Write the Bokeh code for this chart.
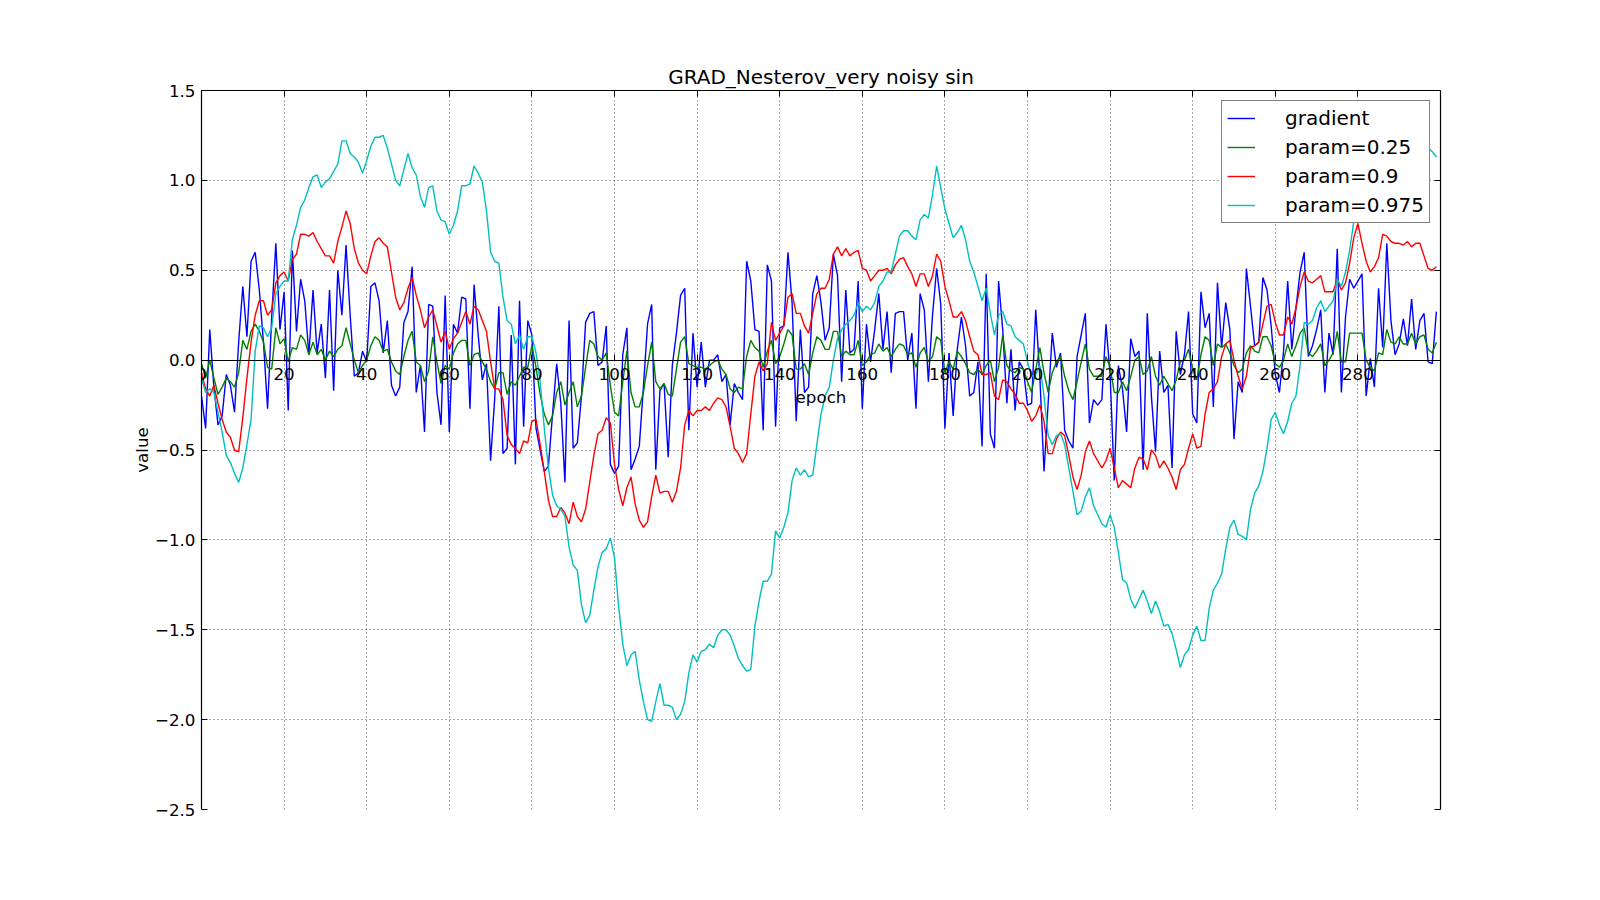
from bokeh.plotting import figure
from bokeh.models import Range1d, LinearAxis, FixedTicker, Legend, LegendItem, CustomJSTickFormatter
from bokeh.embed import file_html
from bokeh.resources import INLINE

epochs = list(range(300))

gradient = [
    -0.2, -0.38, 0.17, -0.15, -0.36, -0.31, -0.08, -0.14, -0.29, 0.1,
    0.41, 0.13, 0.55, 0.6, 0.39, 0.1, -0.27, 0.24, 0.65, 0.17,
    0.38, -0.28, 0.61, 0.16, 0.45, 0.33, 0.03, 0.39, 0.04, 0.2,
    -0.1, 0.39, -0.17, 0.5, 0.25, 0.64, 0.25, -0.09, -0.07, 0.05,
    -0.01, 0.41, 0.43, 0.33, 0.04, 0.22, -0.14, -0.2, -0.15, 0.21,
    0.27, 0.52, -0.18, -0.03, -0.4, 0.31, 0.3, -0.18, -0.36, 0.36,
    -0.4, 0.2, 0.15, 0.35, 0.34, -0.27, 0.42, 0.14, -0.11, -0.02,
    -0.56, -0.21, 0.3, -0.52, -0.49, 0.14, -0.58, 0.33, -0.37, 0.22,
    0.14, -0.38, -0.5, -0.62, -0.59, -0.3, -0.02, -0.24, -0.68, 0.22,
    -0.49, -0.46, -0.2, 0.21, 0.26, 0.27, -0.03, -0.01, 0.19, -0.58,
    -0.63, -0.59, 0.03, 0.18, -0.61, -0.55, -0.48, -0.15, 0.2, 0.31,
    -0.61, -0.17, -0.13, -0.54, -0.03, 0.15, 0.36, 0.4, -0.39, 0.15,
    -0.15, 0.1, -0.15, 0.0, 0.0, 0.03, -0.12, -0.08, -0.36, -0.13,
    -0.18, -0.22, 0.55, 0.44, 0.17, 0.16, -0.39, 0.53, 0.44, -0.37,
    0.18, 0.19, 0.6, 0.32, -0.34, 0.17, -0.18, -0.15, 0.37, 0.47,
    0.32, 0.11, 0.18, 0.59, 0.47, -0.12, 0.39, 0.04, 0.06, 0.44,
    -0.27, 0.2, -0.01, 0.17, 0.37, 0.06, 0.27, -0.07, 0.26, 0.27,
    0.27, 0.0, 0.15, -0.27, 0.37, 0.28, -0.12, 0.25, 0.51, 0.31,
    -0.38, 0.04, -0.31, 0.06, 0.24, 0.08, -0.2, -0.18, -0.01, -0.48,
    0.48, -0.41, -0.49, 0.44, 0.17, -0.24, 0.06, -0.28, -0.01, -0.05,
    -0.25, -0.24, 0.28, -0.1, -0.62, -0.24, 0.15, -0.04, 0.04, -0.39,
    -0.45, -0.49, 0.02, 0.14, 0.26, -0.35, -0.22, -0.25, -0.22, 0.2,
    -0.08, -0.67, -0.03, -0.16, -0.4, 0.12, 0.02, 0.05, -0.61, 0.26,
    -0.2, -0.51, 0.05, -0.18, -0.14, -0.6, 0.16, -0.08, 0.03, 0.27,
    -0.3, -0.35, 0.38, 0.18, 0.26, -0.26, 0.43, 0.07, 0.32, 0.17,
    -0.44, -0.12, -0.18, 0.51, 0.3, 0.08, 0.1, 0.46, 0.39, 0.19,
    -0.08, -0.18, 0.05, 0.44, 0.06, 0.29, 0.49, 0.6, 0.02, 0.08,
    0.17, 0.28, -0.18, 0.15, 0.03, 0.62, -0.18, 0.24, 0.45, 0.4,
    0.44, 0.48, -0.2, 0.01, -0.15, 0.4, 0.07, 0.65, 0.22, 0.03,
    0.09, 0.23, 0.08, 0.34, 0.06, 0.22, 0.26, -0.01, -0.02, 0.27,
]

param_025 = [
    -0.02, -0.1, 0.0, -0.1, -0.19, -0.15, -0.1, -0.12, -0.15, -0.07,
    0.11, 0.06, 0.16, 0.2, 0.16, 0.1, -0.04, -0.05, 0.18, 0.09,
    0.12, -0.01, 0.07, 0.06, 0.14, 0.11, 0.03, 0.1, 0.03, 0.06,
    0.0, 0.05, 0.02, 0.06, 0.08, 0.18, 0.09, 0.0, -0.07, -0.03,
    0.0, 0.08, 0.13, 0.11, 0.05, 0.06, -0.01, -0.06, -0.08, 0.02,
    0.11, 0.16, -0.01, -0.03, -0.12, -0.06, 0.13, -0.01, -0.13, -0.03,
    -0.05, 0.04, 0.09, 0.11, 0.11, -0.03, 0.03, 0.04, -0.01, -0.05,
    -0.12, -0.16, -0.07, -0.07, -0.19, -0.12, -0.14, -0.09, -0.04, -0.04,
    0.08, -0.04, -0.19, -0.3, -0.36, -0.31, -0.18, -0.12, -0.25, -0.18,
    -0.12, -0.26, -0.2, -0.04, 0.11, 0.09, 0.02, 0.0, 0.04, -0.14,
    -0.29, -0.31, -0.12, 0.05, -0.18, -0.26, -0.26, -0.18, -0.03, 0.1,
    -0.12, -0.16, -0.13, -0.19, -0.2, -0.05, 0.1, 0.13, -0.02, -0.03,
    -0.04, -0.04, -0.05, -0.03, -0.01, 0.0, -0.05, -0.08, -0.16, -0.18,
    -0.15, -0.16, 0.02, 0.11, 0.07, 0.05, -0.04, 0.05, 0.11, -0.02,
    0.02, 0.09, 0.17, 0.14, -0.05, -0.05, -0.02, -0.08, 0.04, 0.13,
    0.11, 0.06, 0.06, 0.16, 0.16, 0.02, 0.05, 0.03, 0.03, 0.11,
    -0.03, -0.01, 0.03, 0.04, 0.09, 0.05, 0.07, 0.02, 0.06, 0.09,
    0.08, 0.03, 0.04, -0.04, 0.04, 0.07, -0.01, 0.02, 0.13, 0.11,
    -0.07, -0.01, -0.05, 0.05, 0.02, -0.02, -0.07, -0.08, -0.05, -0.08,
    -0.03, 0.0, -0.12, -0.04, 0.14, -0.03, -0.06, -0.07, -0.04, -0.05,
    -0.12, -0.18, -0.05, 0.07, -0.07, -0.18, -0.07, -0.01, 0.02, -0.09,
    -0.17, -0.22, -0.12, -0.01, 0.09, -0.05, -0.09, -0.09, -0.09, 0.02,
    -0.04, -0.18, -0.18, -0.12, -0.17, -0.09, 0.0, 0.02, -0.08, -0.06,
    0.02, -0.09, -0.14, -0.09, -0.13, -0.17, -0.11, -0.01, 0.0, 0.06,
    -0.05, -0.11, 0.03, 0.13, 0.11, -0.03, 0.09, 0.07, 0.09, 0.04,
    -0.03, -0.07, -0.05, 0.04, 0.08, 0.05, 0.04, 0.13, 0.13, 0.08,
    -0.02, -0.04, 0.0, 0.09, 0.02, 0.08, 0.15, 0.18, 0.04, 0.02,
    0.05, 0.09, -0.03, 0.0, 0.04, 0.16, -0.01, -0.01, 0.15, 0.15,
    0.15, 0.15, 0.0, -0.04, -0.06, 0.04, 0.03, 0.17, 0.1, 0.09,
    0.13, 0.09, 0.09, 0.15, 0.09, 0.13, 0.14, 0.06, 0.04, 0.1,
]

param_09 = [
    -0.07, -0.16, -0.2, -0.14, -0.24, -0.33, -0.4, -0.43, -0.5, -0.51,
    -0.32, -0.1, 0.1, 0.25, 0.33, 0.33, 0.25, 0.28, 0.43, 0.47,
    0.49, 0.44, 0.56, 0.59, 0.7, 0.7, 0.69, 0.71, 0.66, 0.62,
    0.58, 0.58, 0.54, 0.66, 0.74, 0.83, 0.76, 0.62, 0.54, 0.5,
    0.48, 0.58, 0.66, 0.68, 0.65, 0.63, 0.49, 0.35, 0.28, 0.32,
    0.4, 0.46, 0.36, 0.28, 0.18, 0.24, 0.28, 0.19, 0.1, 0.16,
    0.06, 0.12, 0.15, 0.21, 0.27, 0.2, 0.3, 0.28, 0.22, 0.16,
    -0.01, -0.16, -0.16, -0.22, -0.42, -0.47, -0.49, -0.52, -0.45, -0.46,
    -0.34, -0.33, -0.47, -0.62, -0.78, -0.87, -0.87, -0.82, -0.85, -0.91,
    -0.79, -0.87, -0.9, -0.83, -0.68, -0.53, -0.41, -0.39, -0.32, -0.35,
    -0.58, -0.72, -0.81, -0.71, -0.65, -0.8, -0.89, -0.93, -0.9, -0.76,
    -0.64, -0.74, -0.73, -0.73, -0.79, -0.73, -0.6, -0.36, -0.28, -0.31,
    -0.28, -0.28, -0.26, -0.28, -0.24, -0.21, -0.22, -0.26, -0.37, -0.49,
    -0.52, -0.57, -0.52, -0.3, -0.09, -0.01, -0.06, -0.02, 0.21, 0.11,
    0.15, 0.19, 0.35, 0.37, 0.26, 0.26, 0.19, 0.15, 0.26, 0.37,
    0.4, 0.4, 0.45, 0.59, 0.63, 0.58, 0.62, 0.58, 0.6, 0.61,
    0.51, 0.5, 0.44, 0.47, 0.5, 0.5, 0.51, 0.48, 0.53, 0.56,
    0.57, 0.52, 0.48, 0.41, 0.48, 0.48, 0.41, 0.47, 0.59, 0.55,
    0.41, 0.33, 0.24, 0.24, 0.27, 0.22, 0.13, 0.05, 0.03, -0.08,
    -0.08, -0.07, -0.2, -0.22, -0.11, -0.12, -0.16, -0.19, -0.24, -0.24,
    -0.28, -0.34, -0.31, -0.25, -0.34, -0.52, -0.52, -0.44, -0.4, -0.42,
    -0.53, -0.65, -0.72, -0.64, -0.51, -0.45, -0.52, -0.56, -0.6, -0.56,
    -0.49, -0.6, -0.71, -0.67, -0.69, -0.71, -0.6, -0.54, -0.55, -0.61,
    -0.5, -0.53, -0.6, -0.56, -0.6, -0.65, -0.72, -0.61, -0.58, -0.49,
    -0.41, -0.49, -0.48, -0.3, -0.18, -0.16, -0.12, 0.02, 0.09, 0.11,
    0.0, -0.09, -0.16, -0.09, 0.07, 0.08, 0.1, 0.2, 0.3, 0.31,
    0.21, 0.14, 0.14, 0.24, 0.2, 0.29, 0.41, 0.49, 0.44, 0.43,
    0.45, 0.47, 0.38, 0.38, 0.38, 0.45, 0.39, 0.43, 0.54, 0.68,
    0.76, 0.65, 0.55, 0.49, 0.52, 0.57, 0.7, 0.69, 0.66, 0.65,
    0.65, 0.64, 0.66, 0.63, 0.65, 0.65, 0.58, 0.51, 0.5, 0.52,
]

param_0975 = [
    -0.1, -0.18, -0.16, -0.18, -0.29, -0.4, -0.53, -0.57, -0.63, -0.68,
    -0.6, -0.47, -0.33, 0.05, 0.19, 0.18, 0.13, 0.18, 0.37, 0.41,
    0.44, 0.44, 0.67, 0.75, 0.85, 0.89, 0.96, 1.02, 1.03, 0.96,
    0.99, 1.01, 1.05, 1.09, 1.22, 1.22, 1.15, 1.13, 1.1, 1.04,
    1.11, 1.19, 1.24, 1.24, 1.25, 1.18, 1.09, 1.0, 0.97, 1.06,
    1.15, 1.07, 1.03, 0.91, 0.85, 0.96, 0.97, 0.83, 0.78, 0.77,
    0.7, 0.75, 0.83, 0.97, 0.97, 0.98, 1.08, 1.04, 0.99, 0.83,
    0.6, 0.55, 0.54, 0.35, 0.22, 0.2, 0.09, 0.14, 0.06, 0.13,
    0.13, 0.04, -0.12, -0.38, -0.6, -0.75, -0.81, -0.83, -0.87, -1.04,
    -1.14, -1.17, -1.36, -1.46, -1.42, -1.28, -1.15, -1.07, -1.05, -0.99,
    -1.1, -1.37, -1.58, -1.7, -1.64, -1.62, -1.78, -1.9, -2.0, -2.01,
    -1.9, -1.8, -1.92, -1.92, -1.93, -2.0, -1.97, -1.9, -1.74, -1.64,
    -1.68, -1.62, -1.61, -1.58, -1.6, -1.53, -1.5, -1.5, -1.53, -1.59,
    -1.66, -1.7, -1.73, -1.72, -1.48, -1.34, -1.23, -1.23, -1.19, -0.95,
    -0.99, -0.93, -0.85, -0.67, -0.6, -0.64, -0.61, -0.65, -0.64, -0.47,
    -0.3, -0.2, -0.15, 0.0, 0.12, 0.17, 0.2, 0.22, 0.25, 0.32,
    0.27, 0.3, 0.28, 0.32, 0.41, 0.44, 0.49, 0.49, 0.59, 0.69,
    0.72, 0.72, 0.69, 0.67, 0.78, 0.81, 0.79, 0.92, 1.08, 0.96,
    0.84, 0.76, 0.68, 0.71, 0.75, 0.67, 0.55, 0.49, 0.41, 0.33,
    0.4, 0.26, 0.14, 0.25, 0.27, 0.2, 0.19, 0.13, 0.11, 0.09,
    -0.01, -0.09, -0.08, -0.03, -0.2, -0.42, -0.47, -0.42, -0.41, -0.47,
    -0.6, -0.73, -0.86, -0.84, -0.76, -0.71, -0.81, -0.86, -0.91, -0.93,
    -0.86, -0.93, -1.07, -1.22, -1.24, -1.33, -1.38, -1.33, -1.28, -1.34,
    -1.41, -1.34, -1.4, -1.48, -1.47, -1.52, -1.61, -1.71, -1.64, -1.61,
    -1.53, -1.48, -1.56, -1.56, -1.38, -1.28, -1.24, -1.19, -1.05, -0.93,
    -0.89, -0.97, -0.98, -1.0, -0.83, -0.74, -0.7, -0.62, -0.49, -0.33,
    -0.29, -0.36, -0.41, -0.34, -0.24, -0.2, -0.03, 0.21, 0.2, 0.22,
    0.29, 0.33, 0.27, 0.3, 0.33, 0.45, 0.41, 0.49, 0.61, 0.77,
    0.85, 0.95, 0.92, 0.93, 0.98, 1.02, 1.1, 1.15, 1.14, 1.12,
    1.15, 1.18, 1.17, 1.2, 1.18, 1.17, 1.2, 1.18, 1.16, 1.13,
]

series_labels = ["gradient", "param=0.25", "param=0.9", "param=0.975"]
series_colors = ["#0000ff", "#008000", "#ff0000", "#00bfbf"]

x_ticks = [0, 20, 40, 60, 80, 100, 120, 140, 160, 180, 200, 220, 240, 260, 280]
y_ticks = [-2.5, -2.0, -1.5, -1.0, -0.5, 0.0, 0.5, 1.0, 1.5]
y_tick_labels = ["\u22122.5", "\u22122.0", "\u22121.5", "\u22121.0", "\u22120.5", "0.0", "0.5", "1.0", "1.5"]

FONT = "DejaVu Sans"

p = figure(width=1584, height=884, output_backend="svg", toolbar_location=None,
           x_range=Range1d(0, 300), y_range=Range1d(-2.5, 1.5),
           min_border_left=201, min_border_right=144, min_border_top=90, min_border_bottom=75)
p.outline_line_color = None
p.background_fill_color = "white"
p.border_fill_color = "white"

p.title.text = "GRAD_Nesterov_very noisy sin"
p.title.align = "center"
p.title.text_font = FONT
p.title.text_font_size = "20px"
p.title.text_font_style = "normal"
p.title.text_color = "black"
p.title.standoff = 3

renderers = []
for data, col in zip([gradient, param_025, param_09, param_0975], series_colors):
    r = p.line(epochs, data, line_color=col, line_width=1.4)
    renderers.append(r)

# bottom axis placed at y = 0
xa = p.xaxis[0]
xa.ticker = FixedTicker(ticks=x_ticks)
xa.fixed_location = 0
xa.axis_label = "epoch"
xa.axis_label_text_font = FONT
xa.axis_label_text_font_size = "16.7px"
xa.axis_label_text_font_style = "normal"
xa.axis_label_text_color = "black"
xa.axis_label_standoff = 3
xa.major_label_text_font = FONT
xa.major_label_text_font_size = "16.7px"
xa.major_label_text_color = "black"
xa.major_label_standoff = 8
xa.major_tick_in = 6
xa.major_tick_out = 0
xa.minor_tick_line_color = None
xa.axis_line_color = "black"
xa.axis_line_width = 1.2
xa.major_tick_line_color = "black"

ya = p.yaxis[0]
ya.ticker = FixedTicker(ticks=y_ticks)
ya.major_label_overrides = {t: s for t, s in zip(y_ticks, y_tick_labels)}
ya.axis_label = "value"
ya.axis_label_text_font = FONT
ya.axis_label_text_font_size = "16.7px"
ya.axis_label_text_font_style = "normal"
ya.axis_label_text_color = "black"
ya.axis_label_standoff = 0
ya.major_label_text_font = FONT
ya.major_label_text_font_size = "16.7px"
ya.major_label_text_color = "black"
ya.major_label_standoff = 6
ya.major_tick_in = 6
ya.major_tick_out = 0
ya.minor_tick_line_color = None
ya.axis_line_color = "black"
ya.axis_line_width = 1.2

ra = LinearAxis(ticker=FixedTicker(ticks=y_ticks), formatter=CustomJSTickFormatter(code="return '';"),
                major_tick_in=6, major_tick_out=0,
                minor_tick_line_color=None, axis_line_color="black", axis_line_width=1.2,
                major_label_standoff=0)
p.add_layout(ra, "right")
ta = LinearAxis(ticker=FixedTicker(ticks=x_ticks), formatter=CustomJSTickFormatter(code="return '';"),
                major_tick_in=6, major_tick_out=0,
                minor_tick_line_color=None, axis_line_color="black", axis_line_width=1.2,
                major_label_standoff=0)
p.add_layout(ta, "above")

p.xgrid.ticker = FixedTicker(ticks=x_ticks)
p.ygrid.ticker = FixedTicker(ticks=y_ticks)
p.grid.grid_line_color = "black"
p.grid.grid_line_dash = "1 3"
p.grid.grid_line_width = 1
p.grid.grid_line_alpha = 0.7

legend = Legend(items=[LegendItem(label=l, renderers=[r]) for l, r in zip(series_labels, renderers)],
                location="top_right", margin=10, padding=5, spacing=5,
                glyph_width=28, glyph_height=20, label_height=20, label_standoff=30,
                label_text_font=FONT, label_text_font_size="20px", label_text_color="black",
                border_line_color="black", border_line_width=1.2,
                background_fill_color="white", background_fill_alpha=1.0)
p.add_layout(legend)

open("out.html", "w").write(file_html(p, INLINE))
